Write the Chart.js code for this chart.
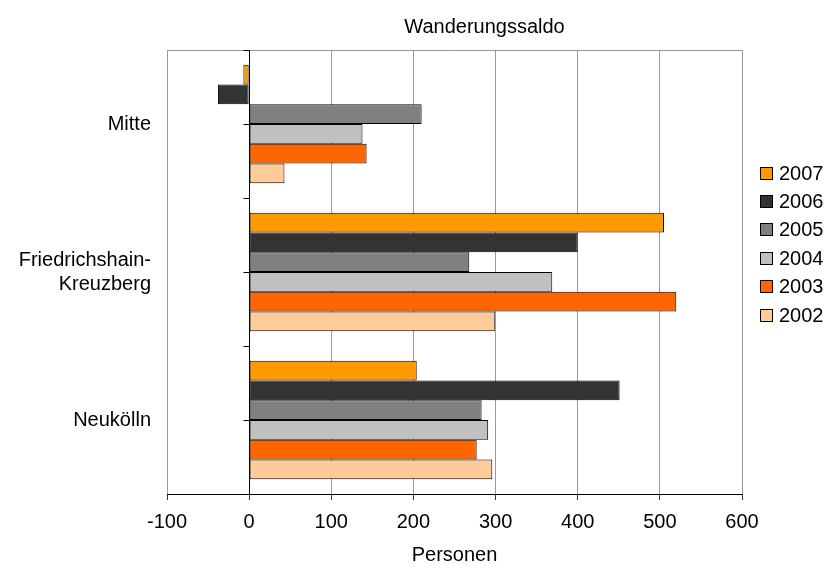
<!DOCTYPE html>
<html>
<head>
<meta charset="utf-8">
<title>Wanderungssaldo</title>
<script src="https://cdn.jsdelivr.net/npm/chart.js@4/dist/chart.umd.min.js"></script>
<style>
	html, body { margin: 0; padding: 0; background: #fff; }
	#wrap { width: 830px; height: 568px; }
</style>
</head>
<body>
<div id="wrap"><canvas id="chart" width="830" height="568"></canvas></div>
<script>

var categories = ["Mitte", ["Friedrichshain-", "Kreuzberg"], "Neukölln"];
var years = ["2007", "2006", "2005", "2004", "2003", "2002"];

var values2007 = [-7, 505, 204];
var values2006 = [-38, 400, 451];
var values2005 = [210, 268, 283];
var values2004 = [138, 369, 291];
var values2003 = [143, 520, 277];
var values2002 = [43, 299, 296];

var xTicks = [-100, 0, 100, 200, 300, 400, 500, 600];

var colors = ["#FF9900", "#333333", "#808080", "#C0C0C0", "#FF6600", "#FFCC99"];
var font = "'Liberation Sans', Arial, sans-serif";

var series = [values2007, values2006, values2005, values2004, values2003, values2002];

function makeDatasets(){
	var list = [];
	for (var i = 0; i < years.length; i++) {
		list.push({
			label: years[i],
			data: series[i],
			backgroundColor: colors[i],
			borderColor: "#000",
			borderWidth: 1,
			borderSkipped: false,
			categoryPercentage: 0.8,
			barPercentage: 1.0
		});
	}
	return list;
}

// title sits a bit right of the plot centre in the original
var titleShift = {
	id: "titleShift",
	afterLayout: function(chart){
		var t = chart.titleBlock;
		var c = chart.chartArea.left + (chart.chartArea.right - chart.chartArea.left) / 2 + 30;
		t.left = c - 110;
		t.right = c + 110;
	}
};

// frame on top + value axis at zero with small ticks
var frameLines = {
	id: "frameLines",
	beforeDatasetsDraw: function(chart){
		var ctx = chart.ctx, a = chart.chartArea;
		ctx.save();
		ctx.strokeStyle = "#999";
		ctx.lineWidth = 1;
		ctx.beginPath();
		ctx.moveTo(a.left, Math.round(a.top) + 0.5);
		ctx.lineTo(a.right, Math.round(a.top) + 0.5);
		ctx.stroke();
		ctx.restore();
	},
	afterDatasetsDraw: function(chart){
		var ctx = chart.ctx, a = chart.chartArea;
		var x0 = Math.round(chart.scales.x.getPixelForValue(0)) + 0.5;
		var n = categories.length * 2;
		ctx.save();
		ctx.strokeStyle = "#000";
		ctx.lineWidth = 1;
		ctx.beginPath();
		ctx.moveTo(x0, a.top);
		ctx.lineTo(x0, a.bottom);
		for (var i = 0; i <= n; i++) {
			var y = Math.round(a.top + i * (a.bottom - a.top) / n) + 0.5;
			ctx.moveTo(x0 - 6, y);
			ctx.lineTo(x0, y);
		}
		ctx.stroke();
		ctx.restore();
	}
};

var sideLegend = {
	id: "sideLegend",
	afterDraw: function(chart){
		var ctx = chart.ctx, a = chart.chartArea;
		var sets = chart.data.datasets;
		ctx.save();
		ctx.font = "20px " + font;
		ctx.textBaseline = "middle";
		for (var i = 0; i < sets.length; i++) {
			var cy = a.top + 123 + i * 28.4;
			var bx = Math.round(a.right + 18) + 0.5;
			var by = Math.round(cy - 6.5) + 0.5;
			ctx.fillStyle = sets[i].backgroundColor;
			ctx.fillRect(bx, by, 12, 12);
			ctx.strokeStyle = "#000";
			ctx.strokeRect(bx, by, 12, 12);
			ctx.fillStyle = "#000";
			ctx.fillText(sets[i].label, a.right + 37, cy + 1);
		}
		ctx.restore();
	}
};

Chart.defaults.font.family = font;
Chart.defaults.font.size = 20;
Chart.defaults.color = "#000";

var ctx = document.getElementById("chart");
var myChart = new Chart(ctx, {
	type: "bar",
	data: {
		labels: categories,
		datasets: makeDatasets()
	},
	options: {
		indexAxis: "y",
		responsive: false,
		animation: false,
		layout: { padding: { left: 0, right: 88, top: 0, bottom: 0 } },
		plugins: {
			legend: { display: false },
			tooltip: { enabled: false },
			title: {
				display: true,
				text: "Wanderungssaldo",
				font: { size: 20, weight: "normal" },
				color: "#000",
				padding: { top: 15, bottom: 11 }
			}
		},
		scales: {
			x: {
				min: xTicks[0],
				max: xTicks[xTicks.length - 1],
				afterBuildTicks: function(scale){
					scale.ticks = xTicks.map(function(v){ return { value: v }; });
				},
				afterFit: function(scale){ scale.height = 74; },
				grid: {
					color: "#999",
					tickColor: "#333",
					tickLength: 6,
					drawTicks: true
				},
				border: { display: true, color: "#000", width: 1 },
				ticks: { padding: 10, font: { size: 20 }, maxRotation: 0 },
				title: {
					display: true,
					text: "Personen",
					font: { size: 20 },
					padding: { top: 0, bottom: 1 }
				}
			},
			y: {
				afterFit: function(scale){ scale.width = 167; },
				grid: { display: false, drawTicks: false },
				border: { display: false },
				ticks: { padding: 16, font: { size: 20 } }
			}
		}
	},
	plugins: [titleShift, frameLines, sideLegend]
});

</script>
</body>
</html>
